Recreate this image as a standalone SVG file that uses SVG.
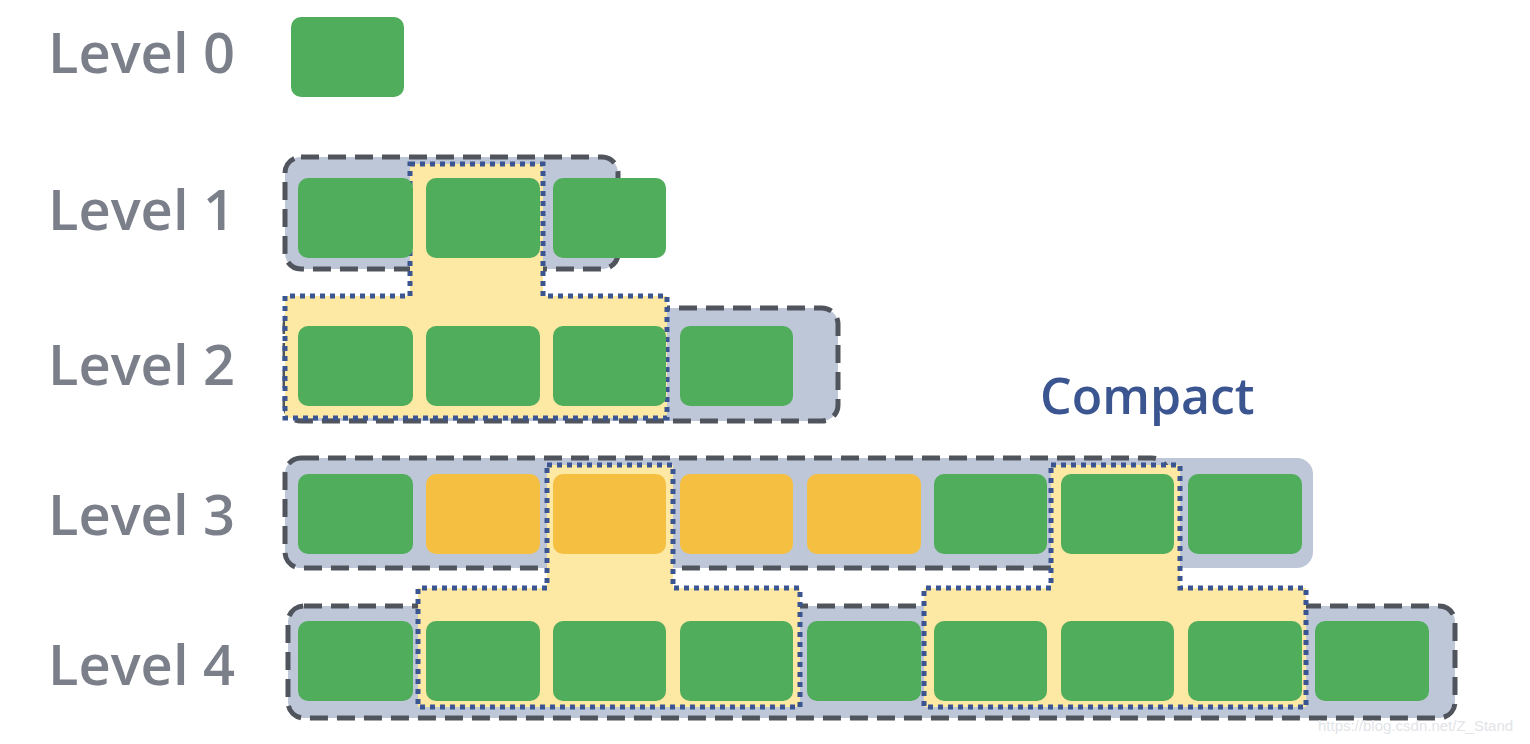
<svg xmlns="http://www.w3.org/2000/svg" width="1530" height="744" viewBox="0 0 1530 744">
<style>
.lbl{font-family:"Open Sans","Liberation Sans",sans-serif;font-size:56px;font-weight:600;fill:#7a7f8a}
.g{fill:#4fad5b}
.o{fill:#f5bf42}
.bg{fill:#bec7d8}
.dash{fill:#bec7d8;stroke:#50545c;stroke-width:5;stroke-dasharray:18 9}
.dot{fill:#fde8a4;stroke:#3b5590;stroke-width:5;stroke-dasharray:5 5}
</style>
<g id="labels">
<text class="lbl" x="48" y="73">Level 0</text>
<text class="lbl" x="48" y="230">Level 1</text>
<text class="lbl" x="48" y="385">Level 2</text>
<text class="lbl" x="48" y="535">Level 3</text>
<text class="lbl" x="48" y="685">Level 4</text>
<text x="1040" y="414" font-family="Open Sans, Liberation Sans, sans-serif" font-size="50" font-weight="600" fill="#3b5590">Compact</text>
</g>
<g id="groups">
<rect class="dash" x="285" y="157" width="333" height="112" rx="16"/>
<rect class="dash" x="285" y="308" width="553" height="113" rx="16"/>
<rect class="bg" x="285" y="458" width="1028" height="110" rx="16"/>
<rect class="dash" x="285" y="458" width="883" height="110" rx="16"/>
<rect class="dash" x="288" y="606" width="1167" height="112" rx="16"/>
<path class="dot" d="M410 164H543V296H667V418H285V296H410Z"/>
<path class="dot" d="M547 465H673V588H800V707H418V588H547Z"/>
<path class="dot" d="M1051 465H1180V588H1306V707H924V588H1051Z"/>
</g>
<g id="blocks">
<rect class="g" x="291" y="17" width="113" height="80" rx="10"/>
<rect class="g" x="298" y="178" width="115" height="80" rx="10"/>
<rect class="g" x="426" y="178" width="114" height="80" rx="10"/>
<rect class="g" x="553" y="178" width="113" height="80" rx="10"/>
<rect class="g" x="298" y="326" width="115" height="80" rx="10"/>
<rect class="g" x="426" y="326" width="114" height="80" rx="10"/>
<rect class="g" x="553" y="326" width="113" height="80" rx="10"/>
<rect class="g" x="680" y="326" width="113" height="80" rx="10"/>
<rect class="g" x="298" y="474" width="115" height="80" rx="10"/>
<rect class="o" x="426" y="474" width="114" height="80" rx="10"/>
<rect class="o" x="553" y="474" width="113" height="80" rx="10"/>
<rect class="o" x="680" y="474" width="113" height="80" rx="10"/>
<rect class="o" x="807" y="474" width="114" height="80" rx="10"/>
<rect class="g" x="934" y="474" width="113" height="80" rx="10"/>
<rect class="g" x="1061" y="474" width="113" height="80" rx="10"/>
<rect class="g" x="1188" y="474" width="114" height="80" rx="10"/>
<rect class="g" x="298" y="621" width="115" height="80" rx="10"/>
<rect class="g" x="426" y="621" width="114" height="80" rx="10"/>
<rect class="g" x="553" y="621" width="113" height="80" rx="10"/>
<rect class="g" x="680" y="621" width="113" height="80" rx="10"/>
<rect class="g" x="807" y="621" width="114" height="80" rx="10"/>
<rect class="g" x="934" y="621" width="113" height="80" rx="10"/>
<rect class="g" x="1061" y="621" width="113" height="80" rx="10"/>
<rect class="g" x="1188" y="621" width="114" height="80" rx="10"/>
<rect class="g" x="1315" y="621" width="114" height="80" rx="10"/>
</g>
<text x="1318" y="731" font-family="Liberation Sans, sans-serif" font-size="15" fill="#e2e4e8">https://blog.csdn.net/Z_Stand</text>
</svg>
